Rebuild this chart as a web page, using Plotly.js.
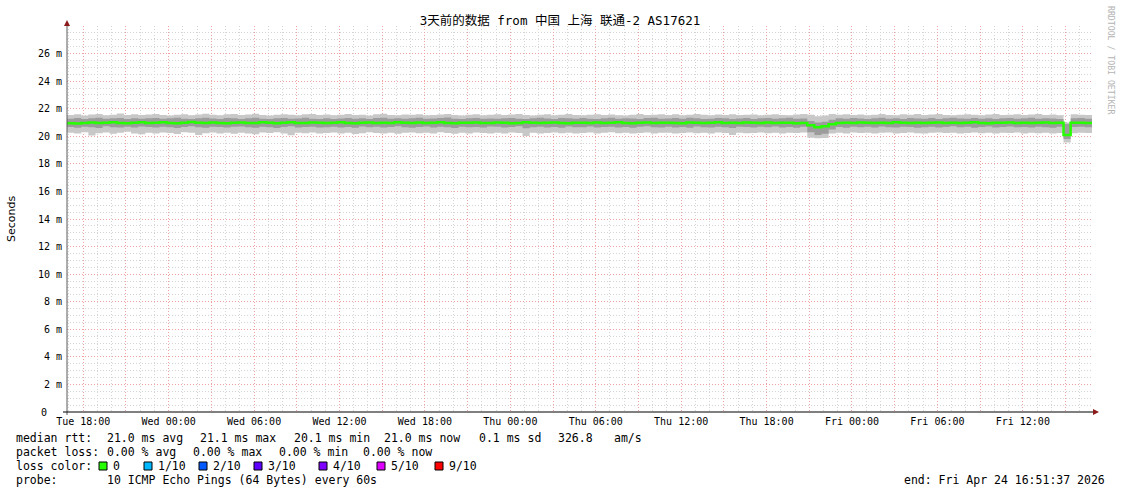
<!DOCTYPE html>
<html>
<head>
<meta charset="utf-8">
<script src="https://cdn.plot.ly/plotly-3.0.1.min.js"></script>
<style>html,body{margin:0;padding:0;background:#fff;}#chart{width:1121px;height:494px;}</style>
</head>
<body>
<div id="chart"></div>
<script>
// ---- data (ms), one value per 30-minute bin from Tue Apr 21 16:51:37 2026 ----
const startTime = "2026-04-21 16:51:37";
const binMinutes = 30;
const medianRtt = [
20.95,20.92,20.97,21.00,20.96,20.98,21.02,20.97,20.95,20.99,21.01,20.96,
20.98,21.02,20.97,20.95,20.99,21.03,20.98,20.96,21.00,20.97,20.94,20.98,
21.00,20.97,20.96,21.01,20.98,20.95,20.99,21.02,20.97,20.96,21.00,20.98,
20.96,20.99,21.01,20.97,20.95,20.98,21.00,20.96,20.99,20.97,21.02,20.98,
20.97,21.00,20.96,20.98,21.01,20.97,20.95,20.99,20.98,21.00,20.96,20.97,
21.00,20.98,20.95,20.97,21.01,20.99,20.96,20.98,21.00,20.97,20.95,20.99,
20.98,20.96,21.00,20.97,20.99,21.02,20.97,20.95,20.98,21.00,20.96,20.98,
20.99,20.97,20.95,21.00,20.98,20.96,20.99,21.01,20.97,20.98,20.96,21.00,
20.98,20.97,21.00,20.96,20.99,20.98,20.95,20.97,20.80,20.66,20.72,20.88,
20.97,20.99,20.96,21.00,20.98,20.97,20.99,20.96,21.01,20.98,20.97,20.99,
20.96,20.98,21.00,20.97,20.99,20.96,20.98,21.01,20.97,20.95,20.99,20.98,
21.00,20.97,20.98,20.96,20.99,21.00,20.97,20.98,20.10,20.98,20.99,20.97
];
const pingMin = [
20.25,20.20,20.30,20.05,20.22,20.28,20.18,20.25,20.32,20.20,20.15,20.26,
20.20,20.28,20.23,20.17,20.30,20.25,20.10,20.22,20.28,20.20,20.25,20.18,
20.26,20.20,20.15,20.28,20.23,20.30,20.20,20.08,20.25,20.22,20.28,20.20,
20.23,20.28,20.20,20.25,20.17,20.22,20.30,20.24,20.20,20.26,20.18,20.25,
20.28,20.22,20.25,20.20,20.30,20.23,20.18,20.26,20.21,20.28,20.24,20.20,
20.25,20.20,20.28,20.23,20.02,20.26,20.20,20.24,20.28,20.22,20.25,20.20,
20.23,20.27,20.20,20.25,20.30,20.22,20.26,20.20,20.24,20.28,20.21,20.25,
20.26,20.20,20.24,20.28,20.22,20.25,20.20,20.27,20.23,20.10,20.25,20.22,
20.24,20.28,20.22,20.25,20.20,20.26,20.23,20.28,19.90,19.85,19.88,20.20,
20.25,20.20,20.28,20.23,20.26,20.21,20.25,20.28,20.20,20.24,20.27,20.22,
20.20,20.25,20.28,20.23,20.26,20.20,20.24,20.28,20.22,20.25,20.20,20.26,
20.23,20.28,20.20,20.25,20.22,20.26,20.20,20.24,19.55,20.22,20.26,20.24
];
const pingLowQ = [
20.68,20.62,20.70,20.65,20.60,20.72,20.66,20.63,20.69,20.64,20.71,20.67,
20.64,20.70,20.66,20.61,20.68,20.73,20.65,20.62,20.70,20.67,20.63,20.69,
20.71,20.65,20.62,20.69,20.66,20.60,20.68,20.72,20.64,20.67,20.70,20.63,
20.66,20.70,20.64,20.68,20.62,20.71,20.65,20.69,20.63,20.67,20.72,20.66,
20.62,20.68,20.71,20.64,20.69,20.66,20.60,20.70,20.65,20.68,20.63,20.71,
20.69,20.63,20.67,20.72,20.58,20.65,20.70,20.64,20.68,20.62,20.71,20.66,
20.65,20.71,20.63,20.68,20.70,20.64,20.67,20.62,20.69,20.72,20.66,20.64,
20.70,20.64,20.68,20.62,20.71,20.66,20.63,20.69,20.65,20.60,20.70,20.67,
20.63,20.69,20.66,20.71,20.64,20.68,20.62,20.70,20.30,20.10,20.18,20.50,
20.68,20.62,20.70,20.65,20.69,20.63,20.71,20.66,20.64,20.70,20.67,20.62,
20.66,20.70,20.63,20.68,20.72,20.65,20.69,20.62,20.67,20.71,20.64,20.68,
20.71,20.65,20.68,20.63,20.70,20.66,20.62,20.69,19.80,20.67,20.70,20.65
];
const pingHighQ = [
21.28,21.32,21.25,21.30,21.35,21.27,21.30,21.33,21.26,21.31,21.28,21.30,
21.33,21.27,21.30,21.35,21.28,21.25,21.31,21.34,21.29,21.26,21.32,21.30,
21.26,21.31,21.34,21.28,21.25,21.30,21.33,21.27,21.29,21.35,21.28,21.26,
21.30,21.26,21.29,21.33,21.27,21.31,21.25,21.32,21.35,21.28,21.30,21.27,
21.31,21.34,21.27,21.29,21.32,21.36,21.28,21.25,21.30,21.33,21.27,21.29,
21.27,21.30,21.33,21.28,21.26,21.31,21.34,21.29,21.25,21.32,21.30,21.28,
21.33,21.28,21.25,21.30,21.34,21.27,21.31,21.29,21.26,21.32,21.35,21.28,
21.29,21.32,21.27,21.35,21.30,21.26,21.28,21.33,21.31,21.25,21.29,21.32,
21.26,21.30,21.33,21.28,21.31,21.35,21.27,21.29,21.10,21.00,21.05,21.20,
21.30,21.27,21.32,21.29,21.25,21.31,21.34,21.28,21.30,21.26,21.33,21.29,
21.28,21.33,21.26,21.30,21.35,21.29,21.27,21.32,21.28,21.31,21.26,21.30,
21.32,21.28,21.30,21.34,21.27,21.31,21.29,21.26,20.90,21.30,21.33,21.28
];
const pingMax = [
21.55,21.60,21.50,21.58,21.62,21.52,21.57,21.65,21.55,21.60,21.54,21.58,
21.62,21.55,21.50,21.57,21.60,21.53,21.58,21.64,21.56,21.52,21.59,21.61,
21.54,21.58,21.63,21.55,21.50,21.57,21.60,21.56,21.52,21.59,21.62,21.55,
21.58,21.52,21.56,21.61,21.54,21.57,21.50,21.59,21.63,21.55,21.53,21.58,
21.56,21.60,21.52,21.55,21.58,21.62,21.54,21.50,21.57,21.60,21.53,21.56,
21.59,21.54,21.58,21.62,21.55,21.51,21.57,21.60,21.53,21.56,21.61,21.55,
21.52,21.57,21.60,21.55,21.58,21.53,21.50,21.56,21.61,21.54,21.57,21.59,
21.55,21.60,21.53,21.57,21.62,21.56,21.52,21.58,21.55,21.60,21.54,21.57,
21.58,21.53,21.56,21.60,21.55,21.52,21.58,21.61,21.57,21.45,21.50,21.62,
21.56,21.60,21.54,21.58,21.52,21.57,21.61,21.55,21.53,21.59,21.56,21.62,
21.54,21.58,21.61,21.55,21.52,21.57,21.60,21.56,21.53,21.58,21.62,21.55,
21.57,21.60,21.54,21.58,21.62,21.55,21.58,21.52,21.00,21.60,21.57,21.55
];
const tickLabels = ["Tue 18:00","Wed 00:00","Wed 06:00","Wed 12:00","Wed 18:00","Thu 00:00",
                    "Thu 06:00","Thu 12:00","Thu 18:00","Fri 00:00","Fri 06:00","Fri 12:00"];
const firstLabelTime = "2026-04-21 18:00:00";
const yTickVals = [0,2,4,6,8,10,12,14,16,18,20,22,24,26];
const titleText = "3天前的数据 from 中国 上海 联通-2 AS17621";
const statsMedian = ["median rtt:","21.0 ms avg","21.1 ms max","20.1 ms min","21.0 ms now","0.1 ms sd","326.8","am/s"];
const statsLoss = ["packet loss:","0.00 % avg","0.00 % max","0.00 % min","0.00 % now"];
const lossLabels = ["0","1/10","2/10","3/10","4/10","5/10","9/10"];
const lossColors = ["#26ff00","#00b8ff","#0059ff","#5e00ff","#7e00ff","#dd00ff","#ff0000"];
const probeText = "10 ICMP Echo Pings (64 Bytes) every 60s";
const endText = "end: Fri Apr 24 16:51:37 2026";

// ---- helpers ----
function parseT(s){const [d,t]=s.split(" ");const [Y,M,D]=d.split("-").map(Number);const [h,m,sec]=t.split(":").map(Number);return Date.UTC(Y,M-1,D,h,m,sec);}
function fmtT(ms){const d=new Date(ms);const p=n=>String(n).padStart(2,"0");
  return d.getUTCFullYear()+"-"+p(d.getUTCMonth()+1)+"-"+p(d.getUTCDate())+" "+p(d.getUTCHours())+":"+p(d.getUTCMinutes())+":"+p(d.getUTCSeconds());}
const t0 = parseT(startTime);
const N = medianRtt.length;
const xs = []; for(let i=0;i<=N;i++) xs.push(fmtT(t0+i*binMinutes*60000));
const ext = a => a.concat([a[a.length-1]]);
const tEnd = t0 + N*binMinutes*60000;

const tickVals=[], tickText=[];
const tl0 = parseT(firstLabelTime);
for(let k=0;k<tickLabels.length*2;k++){const tt=tl0+k*3*3600000; if(tt>tEnd) break; tickVals.push(fmtT(tt)); tickText.push(k%2===0?tickLabels[k/2]:"");}
// the zero label is drawn separately (rrdtool pads it), others get the milli prefix
const yTickText = yTickVals.map(v=> v===0 ? "" : v+" m");

// layout geometry (pixels)
const W=1121,H=494, L=67, R=1092, T=26, B=412;
const px = x => (x-L)/(R-L);
const py = y => (B-y)/(B-T);

const mono = "DejaVu Sans Mono, Noto Sans CJK SC, monospace";
const smokeOuter = "#c8c8c8", smokeInner = "#9c9c9c";

const traces = [
  {x:xs,y:ext(pingMin),mode:"lines",line:{width:0,shape:"hv"},hoverinfo:"skip",showlegend:false},
  {x:xs,y:ext(pingMax),mode:"lines",line:{width:0,shape:"hv"},fill:"tonexty",fillcolor:smokeOuter,hoverinfo:"skip",showlegend:false},
  {x:xs,y:ext(pingLowQ),mode:"lines",line:{width:0,shape:"hv"},hoverinfo:"skip",showlegend:false},
  {x:xs,y:ext(pingHighQ),mode:"lines",line:{width:0,shape:"hv"},fill:"tonexty",fillcolor:smokeInner,hoverinfo:"skip",showlegend:false},
  {x:xs,y:ext(medianRtt),mode:"lines",line:{width:2.5,shape:"hv",color:lossColors[0]},hoverinfo:"skip",showlegend:false}
];

const ann = [];
function txt(x,y,text,opt){ann.push(Object.assign({xref:"paper",yref:"paper",x:px(x),y:py(y),text:text,showarrow:false,xanchor:"left",yanchor:"middle",borderpad:0,borderwidth:0,font:{family:mono,size:11.5,color:"#000"}},opt||{}));}
// stats rows
const medX=[16,107,200,294,384,479,558,614];
statsMedian.forEach((s,i)=>txt(medX[i],438,s));
const lossX=[16,107,193,279,363];
statsLoss.forEach((s,i)=>txt(lossX[i],452,s));
txt(16,466,"loss color:");
const sqX=[99,144,199,254,319,377,435];
const shapes=[];
lossLabels.forEach((s,i)=>{
  txt(sqX[i]+14,466,s);
  shapes.push({type:"rect",xref:"paper",yref:"paper",x0:px(sqX[i]),x1:px(sqX[i]+8),y0:py(470),y1:py(462),fillcolor:lossColors[i],line:{color:"#000",width:1}});
});
txt(16,480,"probe:");
txt(107,480,probeText);
txt(1105,480,endText,{xanchor:"right"});
// zero tick label
txt(44,412,"0",{xanchor:"center",font:{family:mono,size:10,color:"#000"}});
// axis title and watermark
txt(11,219,"Seconds",{xanchor:"center",textangle:-90,font:{family:"DejaVu Sans, sans-serif",size:11,color:"#000"}});
txt(1111,60,"RRDTOOL / TOBI OETIKER",{xanchor:"center",textangle:90,font:{family:mono,size:8.2,color:"#b4b4b4"}});

// axis lines and arrows
shapes.push({type:"line",xref:"paper",yref:"paper",x0:px(67),x1:px(67),y0:py(415),y1:py(24),line:{color:"#5a5a5a",width:1}});
shapes.push({type:"line",xref:"paper",yref:"paper",x0:px(63),x1:px(1094),y0:py(412),y1:py(412),line:{color:"#000",width:1}});
shapes.push({type:"path",xref:"paper",yref:"paper",path:`M ${px(64)} ${py(26)} L ${px(70)} ${py(26)} L ${px(67)} ${py(20)} Z`,fillcolor:"#8b1a1a",line:{color:"#8b1a1a",width:0}});
shapes.push({type:"path",xref:"paper",yref:"paper",path:`M ${px(1093)} ${py(409)} L ${px(1099)} ${py(412)} L ${px(1093)} ${py(415)} Z`,fillcolor:"#8b1a1a",line:{color:"#8b1a1a",width:0}});

const layout = {
  width:W,height:H,
  margin:{l:L,r:W-R,t:T,b:H-B,pad:0},
  paper_bgcolor:"#fff",plot_bgcolor:"#fff",
  showlegend:false,
  title:{text:titleText,font:{family:mono,size:12.5,color:"#000"},x:560/W,xref:"container",xanchor:"center",y:1-21/H,yref:"container",yanchor:"middle"},
  xaxis:{type:"date",range:[fmtT(t0),fmtT(tEnd)],tickmode:"array",tickvals:tickVals,ticktext:tickText,
    showgrid:true,gridcolor:"#f3a0a0",griddash:"1px,2px",gridwidth:1,
    minor:{dtick:3600000,tick0:firstLabelTime,showgrid:true,gridcolor:"#d4d4d4",griddash:"1px,2px",gridwidth:1,ticks:""},
    ticks:"",showline:false,zeroline:false,tickangle:0,ticklabelstandoff:2,
    tickfont:{family:mono,size:10,color:"#000"},fixedrange:true},
  yaxis:{range:[0,28],tickmode:"array",tickvals:yTickVals,ticktext:yTickText,
    showgrid:true,gridcolor:"#f3a0a0",griddash:"1px,2px",gridwidth:1,
    minor:{dtick:0.5,tick0:0,showgrid:true,gridcolor:"#d4d4d4",griddash:"1px,2px",gridwidth:1,ticks:""},
    ticks:"",showline:false,zeroline:false,ticklabelstandoff:4,
    tickfont:{family:mono,size:10,color:"#000"},fixedrange:true},
  annotations:ann,
  shapes:shapes
};
Plotly.newPlot("chart",traces,layout,{staticPlot:true,displayModeBar:false});
</script>
</body>
</html>
